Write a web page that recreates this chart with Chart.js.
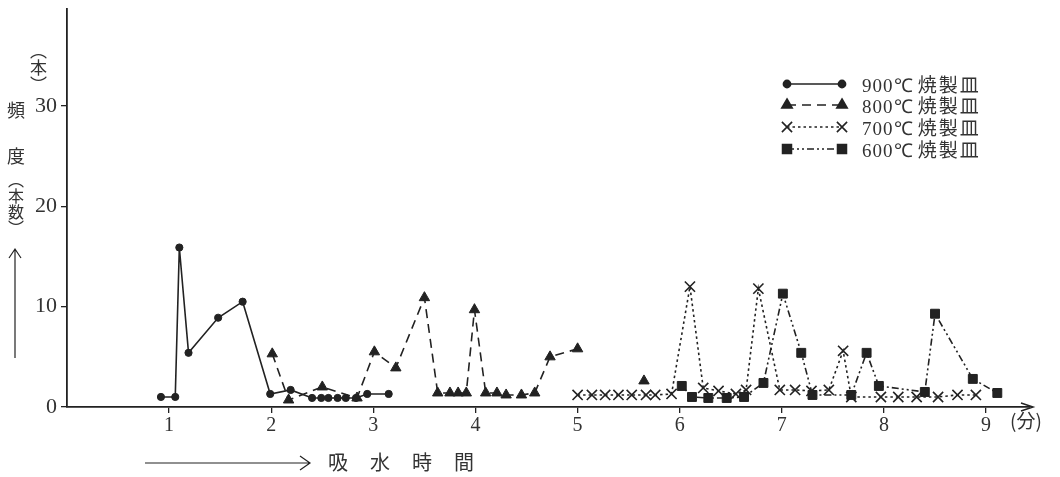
<!DOCTYPE html>
<html>
<head>
<meta charset="utf-8">
<script src="https://cdn.jsdelivr.net/npm/chart.js@4.4.0/dist/chart.umd.min.js"></script>
<style>
html, body { margin: 0; padding: 0; background: #fff; }
#wrap { position: relative; width: 1060px; height: 477px; }
#chart { position: absolute; left: 0; top: 0; }
.t { position: absolute; color: #333; font-family: "Noto Sans CJK JP", sans-serif; white-space: nowrap; line-height: 1; }
.v { writing-mode: vertical-rl; }
.n { font-family: "Liberation Serif", serif; }
</style>
</head>
<body>
<div id="wrap">
  <canvas id="chart" width="1060" height="477"></canvas>
  <div class="t v" style="left:30px;top:42px;font-size:17px">（本）</div>
  <div class="t" style="left:7px;top:100px;font-size:18px">頻</div>
  <div class="t" style="left:7px;top:146px;font-size:18px">度</div>
  <div class="t v" style="left:8px;top:172px;font-size:16px">（本数）</div>
  <div class="t" style="left:1010px;top:410px;font-size:19px">(分)</div>
  <div class="t" style="left:328px;top:452px;font-size:20px;letter-spacing:22px">吸水時間</div>
  <div id="legend"></div>
</div>
<script>
// 吸水時間 (分) と 頻度 (本数)
const x900 = [0.92, 1.06, 1.10, 1.19, 1.48, 1.72, 1.99, 2.19, 2.40, 2.49, 2.56, 2.65, 2.73, 2.83, 2.94, 3.15];
const y900 = [1.0, 1.0, 15.9, 5.4, 8.9, 10.5, 1.3, 1.7, 0.9, 0.9, 0.9, 0.9, 0.9, 0.9, 1.3, 1.3];

const x800 = [2.01, 2.17, 2.50, 2.84, 3.01, 3.22, 3.50, 3.63, 3.75, 3.83, 3.91, 3.99, 4.10, 4.21, 4.30, 4.45, 4.58, 4.73, 5.00, 5.30, 5.65];
const y800 = [5.3, 0.7, 2.0, 0.9, 5.5, 3.9, 10.9, 1.4, 1.4, 1.4, 1.4, 9.7, 1.4, 1.4, 1.2, 1.2, 1.4, 5.0, 5.8, null, 2.6];

const x700 = [5.00, 5.14, 5.27, 5.40, 5.53, 5.67, 5.76, 5.92, 6.10, 6.23, 6.38, 6.55, 6.65, 6.77, 6.98, 7.13, 7.29, 7.46, 7.60, 7.68, 7.97, 8.14, 8.32, 8.53, 8.72, 8.90];
const y700 = [1.2, 1.2, 1.2, 1.2, 1.2, 1.2, 1.2, 1.3, 12.0, 1.9, 1.6, 1.3, 1.7, 11.8, 1.7, 1.7, 1.6, 1.7, 5.6, 1.0, 1.0, 1.0, 1.0, 1.0, 1.2, 1.2];

const x600 = [6.02, 6.12, 6.28, 6.46, 6.63, 6.82, 7.01, 7.19, 7.30, 7.68, 7.83, 7.95, 8.40, 8.50, 8.87, 9.11];
const y600 = [2.1, 1.0, 0.9, 0.9, 1.0, 2.4, 11.3, 5.4, 1.2, 1.2, 5.4, 2.1, 1.5, 9.3, 2.8, 1.4];

const labels = ['900℃ 焼製皿', '800℃ 焼製皿', '700℃ 焼製皿', '600℃ 焼製皿'];
const xTicks = [1, 2, 3, 4, 5, 6, 7, 8, 9];
const yTicks = [0, 10, 20, 30];

const INK = '#222';
const styles = [
  { dash: [], pointStyle: 'circle', radius: 3.6 },
  { dash: [9, 6], pointStyle: 'triangle', radius: 6 },
  { dash: [2.5, 3], pointStyle: 'crossRot', radius: 7.2 },
  { dash: [7, 3, 2, 3, 2, 3], pointStyle: 'rect', radius: 6.3 }
];

const pts = (xs, ys) => xs.map((x, i) => ({ x, y: ys[i] }));
const series = [pts(x900, y900), pts(x800, y800), pts(x700, y700), pts(x600, y600)];

const datasets = series.map((data, i) => ({
  label: labels[i],
  data,
  borderColor: INK,
  backgroundColor: INK,
  borderWidth: 1.6,
  borderDash: styles[i].dash,
  pointStyle: styles[i].pointStyle,
  pointRadius: styles[i].radius,
  pointBorderWidth: styles[i].pointStyle === 'crossRot' ? 1.6 : 1,
  pointBackgroundColor: INK,
  pointBorderColor: INK,
  tension: 0,
  spanGaps: false
}));

// legend rows (HTML text)
const legendY = [84, 105, 127, 149];
const legendEl = document.getElementById('legend');
labels.forEach((l, i) => {
  const d = document.createElement('div');
  d.className = 't';
  d.style.cssText = `left:862px;top:${legendY[i] - 10}px;font-size:19px`;
  d.innerHTML = `<span class="n" style="letter-spacing:1px">${l.split(' ')[0]}</span> <span style="letter-spacing:2px">${l.split(' ')[1]}</span>`;
  legendEl.appendChild(d);
});

const decor = {
  id: 'decor',
  afterDraw(chart) {
    const { ctx, chartArea: a } = chart;
    ctx.save();
    ctx.strokeStyle = INK;
    ctx.fillStyle = INK;
    ctx.lineWidth = 1.5;
    // x axis arrow head
    ctx.beginPath();
    ctx.moveTo(a.right - 9, a.bottom - 4);
    ctx.lineTo(a.right + 3, a.bottom);
    ctx.lineTo(a.right - 9, a.bottom + 4);
    ctx.stroke();
    // arrow beside y title
    ctx.lineWidth = 1.2;
    ctx.beginPath();
    ctx.moveTo(15, 358); ctx.lineTo(15, 249);
    ctx.moveTo(9, 258); ctx.lineTo(15, 249); ctx.lineTo(21, 258);
    ctx.stroke();
    // arrow before x title
    ctx.beginPath();
    ctx.moveTo(145, 463); ctx.lineTo(309, 463);
    ctx.moveTo(300, 456); ctx.lineTo(310, 463); ctx.lineTo(300, 470);
    ctx.stroke();
    // legend samples
    styles.forEach((s, i) => {
      const y = legendY[i];
      ctx.lineWidth = 1.6;
      ctx.setLineDash(s.dash);
      ctx.beginPath();
      ctx.moveTo(787, y); ctx.lineTo(842, y);
      ctx.stroke();
      ctx.setLineDash([]);
      [787, 842].forEach(x => {
        Chart.helpers.drawPoint(ctx, {
          pointStyle: s.pointStyle, radius: s.radius, rotation: 0,
          borderWidth: s.pointStyle === 'crossRot' ? 1.6 : 1
        }, x, y);
      });
    });
    ctx.restore();
  }
};

new Chart(document.getElementById('chart'), {
  type: 'line',
  data: { datasets },
  plugins: [decor],
  options: {
    responsive: false,
    animation: false,
    layout: { padding: { top: 5, right: 30, left: 0, bottom: 0 } },
    plugins: { legend: { display: false }, tooltip: { enabled: false } },
    scales: {
      x: {
        type: 'linear',
        min: 0,
        max: 9.43,
        afterFit: s => { s.height = 70; },
        afterBuildTicks: s => { s.ticks = xTicks.map(v => ({ value: v })); },
        ticks: {
          stepSize: 1, autoSkip: false, maxRotation: 0, padding: 1,
          color: '#333', font: { family: 'Liberation Serif', size: 20 }
        },
        grid: { drawOnChartArea: false, drawTicks: true, tickLength: 6, color: INK, lineWidth: 1.3 },
        border: { color: INK, width: 1.8 }
      },
      y: {
        min: 0,
        max: 39.7,
        afterFit: s => { s.width = 67; s.paddingTop = 0; },
        afterBuildTicks: s => { s.ticks = yTicks.map(v => ({ value: v })); },
        ticks: {
          stepSize: 10, padding: 4,
          color: '#333', font: { family: 'Liberation Serif', size: 22 }
        },
        grid: { drawOnChartArea: false, drawTicks: true, tickLength: 6, color: INK, lineWidth: 1.3 },
        border: { color: INK, width: 1.8 }
      }
    }
  }
});
</script>
</body>
</html>
